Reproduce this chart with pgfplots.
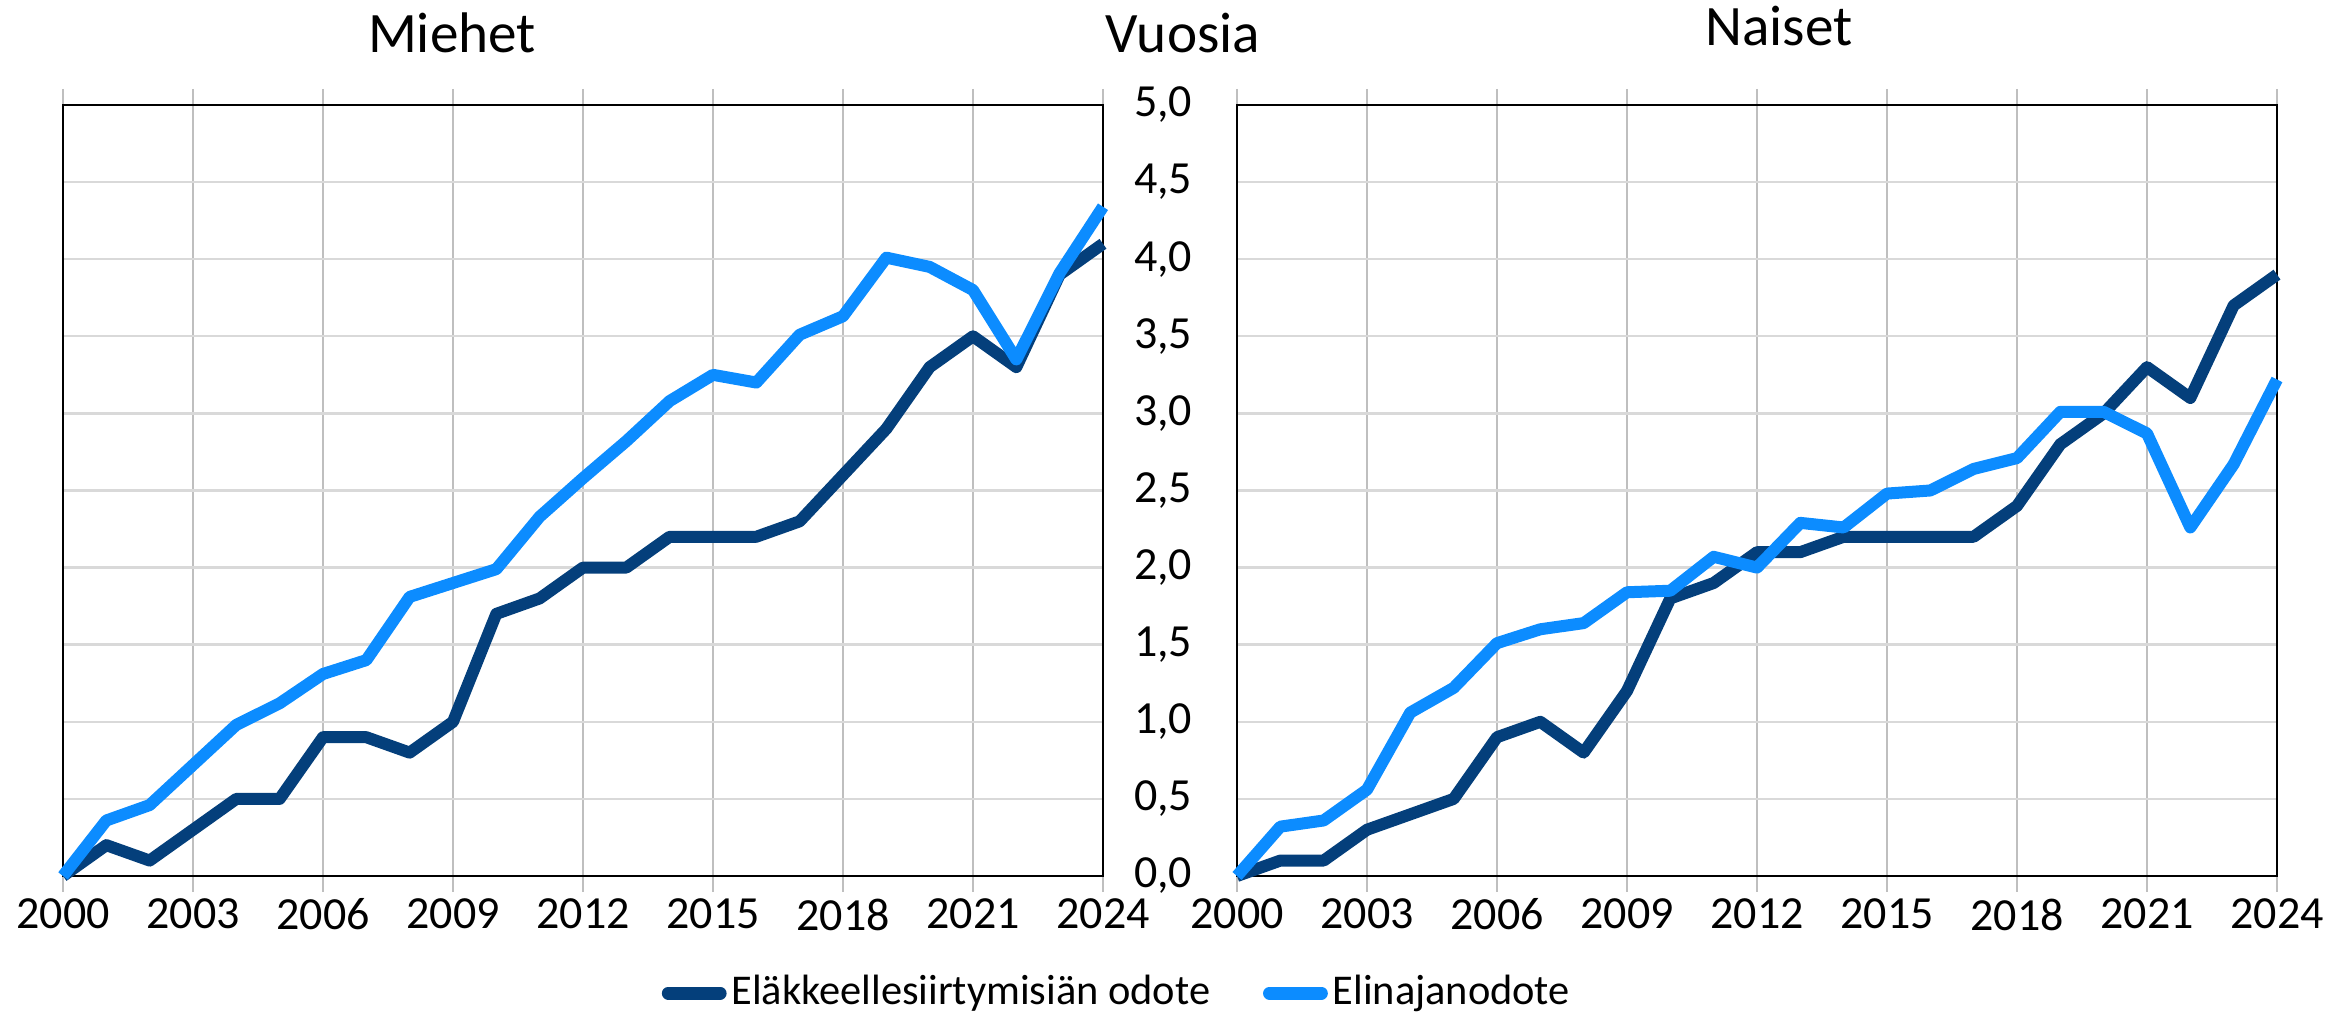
\documentclass[border=0pt]{standalone}
\usepackage{fontspec}
\setmainfont{Carlito}
\usepackage{pgfplots}
\usepackage{pgfplotstable}
\pgfplotsset{compat=1.18}
\definecolor{darkblue}{RGB}{4,63,123}
\definecolor{lightblue}{RGB}{12,140,255}
\definecolor{vgrid}{RGB}{191,191,191}
\definecolor{hgrid}{RGB}{217,217,217}

\pgfplotstableread{
year ret life
2000 0.0 0.00
2001 0.2 0.36
2002 0.1 0.46
2003 0.3 0.72
2004 0.5 0.98
2005 0.5 1.12
2006 0.9 1.31
2007 0.9 1.40
2008 0.8 1.81
2009 1.0 1.90
2010 1.7 1.99
2011 1.8 2.33
2012 2.0 2.58
2013 2.0 2.82
2014 2.2 3.08
2015 2.2 3.25
2016 2.2 3.20
2017 2.3 3.51
2018 2.6 3.63
2019 2.9 4.01
2020 3.3 3.95
2021 3.5 3.80
2022 3.3 3.35
2023 3.9 3.91
2024 4.1 4.34
}\men

\pgfplotstableread{
year ret life
2000 0.0 0.00
2001 0.1 0.32
2002 0.1 0.36
2003 0.3 0.56
2004 0.4 1.06
2005 0.5 1.22
2006 0.9 1.51
2007 1.0 1.60
2008 0.8 1.64
2009 1.2 1.84
2010 1.8 1.85
2011 1.9 2.07
2012 2.1 2.00
2013 2.1 2.29
2014 2.2 2.26
2015 2.2 2.48
2016 2.2 2.50
2017 2.2 2.64
2018 2.4 2.71
2019 2.8 3.01
2020 3.0 3.01
2021 3.3 2.87
2022 3.1 2.26
2023 3.7 2.67
2024 3.9 3.22
}\women

\pgfplotsset{
  panel/.style={
    scale only axis, width=260pt, height=192.75pt,
    xmin=2000, xmax=2024, ymin=0, ymax=5,
    xtick={2000,2003,...,2024}, ytick={0,0.5,...,5},
    xmajorgrids, ymajorgrids,
    major x grid style={draw=vgrid, line width=0.6pt},
    major y grid style={draw=hgrid, line width=0.6pt},
    axis line style={black, line width=0.6pt},
    xtick align=outside, major tick length=4pt,
    xtick style={draw=vgrid, line width=0.6pt},
    ytick style={draw=none},
    /pgf/number format/assume math mode=true,
    x tick label style={/pgf/number format/1000 sep={}, font=\fontsize{11.5}{12}\selectfont, inner sep=0pt},
    xticklabel shift=1.5pt,
    y tick label style={/pgf/number format/.cd, fixed, fixed zerofill, precision=1, use comma, /tikz/.cd, font=\fontsize{11.5}{12}\selectfont, inner sep=0pt},
    yticklabel shift=11pt,
    every axis plot/.append style={line width=3pt, line join=round, no markers},
    clip=false,
  }
}

\begin{document}
\begin{tikzpicture}
\useasboundingbox (0,0) rectangle (587pt,254pt);

\begin{axis}[panel, at={(15.75pt,35pt)}, anchor=south west, yticklabels={},
  legend columns=2,
  legend style={draw=none, fill=none, inner sep=0pt, outer sep=0pt,
    at={(0.5758,-0.152)}, anchor=west,
    font=\fontsize{10.6}{12}\selectfont,
    nodes={inner sep=1.2pt},
    /tikz/every even column/.append style={column sep=12pt}},
  legend image code/.code={\draw[#1, line cap=round, line width=3.2pt] (0pt,0pt) -- (13pt,0pt);},
  legend cell align=left]
\addplot[darkblue] table[x=year, y=ret] {\men};
\addlegendentry{Eläkkeellesiirtymisiän odote}
\addplot[lightblue] table[x=year, y=life] {\men};
\addlegendentry{Elinajanodote}
\end{axis}

\begin{axis}[panel, at={(309.25pt,35pt)}, anchor=south west]
\addplot[darkblue] table[x=year, y=ret] {\women};
\addplot[lightblue] table[x=year, y=life] {\women};
\end{axis}

\node[font=\fontsize{14.3}{16}\selectfont] at (113pt,245.75pt) {Miehet};
\node[font=\fontsize{14.3}{16}\selectfont] at (295.75pt,245.75pt) {Vuosia};
\node[font=\fontsize{14.3}{16}\selectfont] at (444.75pt,247.5pt) {Naiset};
\end{tikzpicture}
\end{document}
